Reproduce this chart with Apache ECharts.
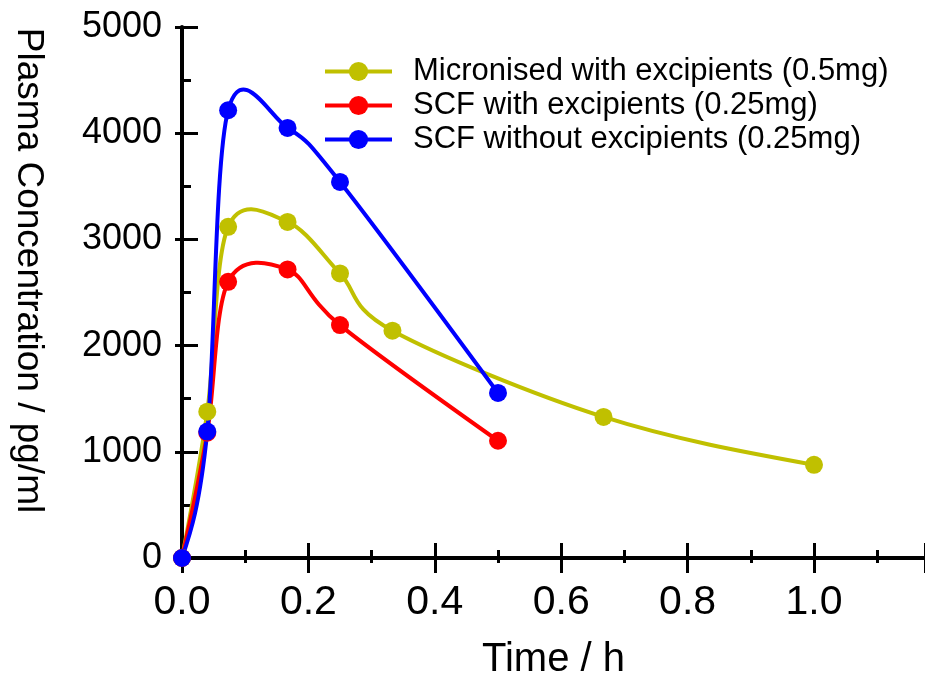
<!DOCTYPE html>
<html>
<head>
<meta charset="utf-8">
<script src="https://cdn.jsdelivr.net/npm/echarts@6/dist/echarts.min.js"></script>
<style>
html,body{margin:0;padding:0;background:#fff;}
#chart{width:925px;height:676px;}
</style>
</head>
<body>
<div id="chart"></div>
<script>
// Data
var seriesNames = ['Micronised with excipients (0.5mg)', 'SCF with excipients (0.25mg)', 'SCF without excipients (0.25mg)'];
var micronisedTime = [0, 0.04, 0.073, 0.167, 0.25, 0.333, 0.667, 1.0];
var micronisedConc = [0, 1378, 3118, 3165, 2680, 2140, 1328, 877];
var scfExcTime = [0, 0.04, 0.073, 0.167, 0.25, 0.5];
var scfExcConc = [0, 1180, 2601, 2717, 2193, 1104];
var scfNoExcTime = [0, 0.04, 0.073, 0.167, 0.25, 0.5];
var scfNoExcConc = [0, 1190, 4216, 4050, 3541, 1554];
var xTickLabels = ['0.0', '0.2', '0.4', '0.6', '0.8', '1.0'];
var yTickLabels = ['0', '1000', '2000', '3000', '4000', '5000'];

function pairs(xs, ys) {
  var out = [];
  for (var i = 0; i < xs.length; i++) out.push([xs[i], ys[i]]);
  return out;
}

// Spline-connected line through the measured points (Catmull-Rom style, in pixel space)
function splinePath(P) {
  var n = P.length, T = [], i;
  for (i = 1; i < n - 1; i++) T[i] = [(P[i + 1][0] - P[i - 1][0]) / 2, (P[i + 1][1] - P[i - 1][1]) / 2];
  if (n > 2) {
    T[0] = [(3 * (P[1][0] - P[0][0]) - T[1][0]) / 2, (3 * (P[1][1] - P[0][1]) - T[1][1]) / 2];
    T[n - 1] = [(3 * (P[n - 1][0] - P[n - 2][0]) - T[n - 2][0]) / 2, (3 * (P[n - 1][1] - P[n - 2][1]) - T[n - 2][1]) / 2];
  } else {
    T[0] = [P[1][0] - P[0][0], P[1][1] - P[0][1]];
    T[1] = T[0];
  }
  var d = 'M' + P[0][0] + ' ' + P[0][1];
  for (i = 0; i < n - 1; i++) {
    var c1 = [P[i][0] + T[i][0] / 3, P[i][1] + T[i][1] / 3];
    var c2 = [P[i + 1][0] - T[i + 1][0] / 3, P[i + 1][1] - T[i + 1][1] / 3];
    d += ' C' + c1[0] + ' ' + c1[1] + ' ' + c2[0] + ' ' + c2[1] + ' ' + P[i + 1][0] + ' ' + P[i + 1][1];
  }
  return d;
}

var FONT = "'Liberation Sans', Arial, sans-serif";
var colors = ['#c0c000', '#ff0000', '#0000ff'];
var sets = [[micronisedTime, micronisedConc], [scfExcTime, scfExcConc], [scfNoExcTime, scfNoExcConc]];

var chart = echarts.init(document.getElementById('chart'), null, {renderer: 'canvas'});

function curveSeries(idx) {
  var xs = sets[idx][0], ys = sets[idx][1];
  return {
    name: 'curve' + idx,
    type: 'custom',
    xAxisIndex: 0,
    yAxisIndex: 0,
    data: pairs(xs, ys),
    encode: {x: 0, y: 1},
    silent: true,
    clip: false,
    z: 2,
    renderItem: function (params, api) {
      if (params.dataIndex !== 0) return null;
      var P = [];
      for (var k = 0; k < xs.length; k++) P.push(api.coord([xs[k], ys[k]]));
      return {
        type: 'path',
        shape: {pathData: splinePath(P)},
        style: {stroke: colors[idx], lineWidth: 4, fill: null, lineJoin: 'round'}
      };
    }
  };
}

function markerSeries(idx) {
  return {
    name: seriesNames[idx],
    type: 'line',
    data: pairs(sets[idx][0], sets[idx][1]),
    symbol: 'circle',
    symbolSize: 18,
    showSymbol: true,
    clip: false,
    z: 3,
    lineStyle: {color: colors[idx], width: 4, opacity: 0},
    itemStyle: {color: colors[idx]},
    emphasis: {disabled: true},
    animation: false
  };
}

var lineStyle = {color: '#000', width: 4};
var X_MAX = (925 - 182) / 632;

var option = {
  animation: false,
  backgroundColor: '#fff',
  grid: {left: 182, top: 27, right: 0, bottom: 118, containLabel: false, outerBoundsMode: 'none'},
  legend: {
    orient: 'vertical',
    left: 323,
    top: 56,
    padding: 0,
    itemWidth: 67,
    itemHeight: 24,
    itemGap: 3,
    selectedMode: false,
    data: seriesNames,
    lineStyle: {width: 4, opacity: 1},
    textStyle: {fontFamily: FONT, fontSize: 31, color: '#000', padding: [0, 0, 0, 16]}
  },
  xAxis: [{
    type: 'value',
    position: 'bottom',
    min: 0,
    max: X_MAX,
    interval: 0.2,
    axisLine: {show: true, lineStyle: lineStyle},
    axisTick: {show: true, inside: true, length: 15, lineStyle: {color: '#000', width: 3}},
    minorTick: {show: true, splitNumber: 2, length: 8, lineStyle: {color: '#000', width: 3}},
    splitLine: {show: false},
    axisLabel: {
      margin: 24,
      fontFamily: "'Liberation Sans Narrow', 'Arial Narrow', " + FONT,
      fontSize: 41,
      color: '#000',
      showMaxLabel: false,
      formatter: function (v) {
        var idx = Math.round(v / 0.2);
        return (idx < xTickLabels.length && Math.abs(v - idx * 0.2) < 1e-6) ? xTickLabels[idx] : '';
      }
    },
    name: 'Time / h',
    nameLocation: 'middle',
    nameGap: 82,
    nameTextStyle: {fontFamily: FONT, fontSize: 40, color: '#000'}
  }, {
    type: 'value',
    position: 'top',
    min: 0,
    max: X_MAX,
    interval: 0.2,
    axisLine: {show: true, lineStyle: lineStyle},
    axisTick: {show: true, inside: true, length: 15, lineStyle: {color: '#000', width: 3}},
    minorTick: {show: true, splitNumber: 2, length: 5, lineStyle: {color: '#000', width: 3}},
    splitLine: {show: false},
    axisLabel: {show: false}
  }],
  yAxis: [{
    type: 'value',
    position: 'left',
    min: 0,
    max: 5000,
    interval: 1000,
    axisLine: {show: true, lineStyle: lineStyle},
    axisTick: {show: true, inside: true, length: 16, lineStyle: {color: '#000', width: 3}},
    minorTick: {show: true, splitNumber: 2, length: 9, lineStyle: {color: '#000', width: 3}},
    splitLine: {show: false},
    axisLabel: {
      margin: 20,
      fontFamily: FONT,
      fontSize: 36,
      color: '#000',
      formatter: function (v) {
        var idx = Math.round(v / 1000);
        return yTickLabels[idx] !== undefined ? yTickLabels[idx] : '';
      }
    },
    name: 'Plasma Concentration / pg/ml',
    nameLocation: 'middle',
    nameRotate: -90,
    nameGap: 135,
    nameTextStyle: {fontFamily: FONT, fontSize: 37, color: '#000', padding: [0, 44, 0, 0]}
  }, {
    type: 'value',
    position: 'right',
    min: 0,
    max: 5000,
    interval: 1000,
    axisLine: {show: false},
    axisTick: {show: true, inside: true, length: 7, lineStyle: {color: '#000', width: 3}},
    splitLine: {show: false},
    axisLabel: {show: false}
  }],
  series: [
    curveSeries(0), curveSeries(1), curveSeries(2),
    markerSeries(0), markerSeries(1), markerSeries(2)
  ]
};

chart.setOption(option);
</script>
</body>
</html>
